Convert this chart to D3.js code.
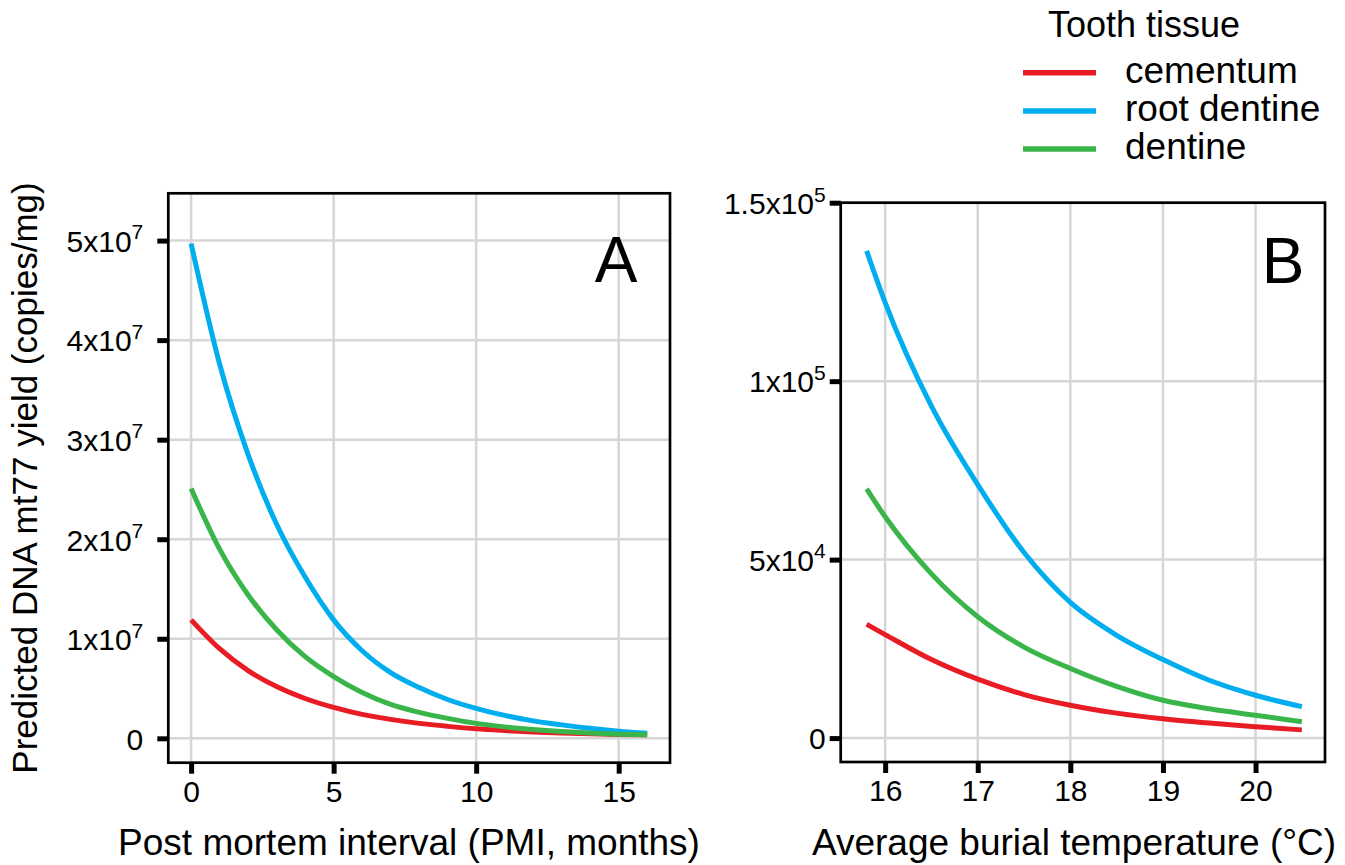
<!DOCTYPE html>
<html>
<head>
<meta charset="utf-8">
<script src="https://cdn.jsdelivr.net/npm/d3@7"></script>
<style>
  body { margin: 0; background: #fff; }
  svg text { font-family: "Liberation Sans", Arial, Helvetica, sans-serif; fill: #000; }
</style>
</head>
<body>
<script>
const width = 1345;
const height = 865;

// tissues and colours
const tissues = ['cementum', 'root dentine', 'dentine'];
const colors = { 'cementum': '#e81c24', 'root dentine': '#00aeef', 'dentine': '#39b54a' };

// panel A: post mortem interval (months) vs predicted yield (x1e7 copies/mg)
const pmi = [0, 1, 2, 3, 4, 5, 6, 7, 8, 9, 10, 11, 12, 13, 14, 15, 16];
const cementumA = [1.19, 0.90, 0.68, 0.52, 0.40, 0.31, 0.24, 0.19, 0.15, 0.12, 0.095, 0.078, 0.064, 0.053, 0.045, 0.039, 0.035];
const rootDentineA = [4.97, 3.76, 2.85, 2.15, 1.62, 1.19, 0.88, 0.66, 0.51, 0.39, 0.30, 0.23, 0.175, 0.135, 0.10, 0.072, 0.05];
const dentineA = [2.51, 1.90, 1.44, 1.09, 0.82, 0.62, 0.46, 0.34, 0.26, 0.20, 0.15, 0.115, 0.088, 0.068, 0.053, 0.042, 0.035];

// panel B: average burial temperature (°C) vs predicted yield (x1e4 copies/mg)
const temp = [15.8, 16, 16.5, 17, 17.5, 18, 18.5, 19, 19.5, 20, 20.5];
const cementumB = [3.19, 2.90, 2.20, 1.65, 1.22, 0.92, 0.70, 0.54, 0.42, 0.32, 0.23];
const rootDentineB = [13.65, 12.2, 9.3, 7.1, 5.2, 3.8, 2.88, 2.2, 1.62, 1.2, 0.88];
const dentineB = [6.98, 6.2, 4.6, 3.4, 2.55, 1.95, 1.45, 1.06, 0.82, 0.64, 0.46];

// ticks and their labels ("^" marks the exponent)
const ticksA_x = [0, 5, 10, 15];
const ticksA_y = [0, 1, 2, 3, 4, 5];          // x1e7
const labelsA_y = ['0', '1x10^7', '2x10^7', '3x10^7', '4x10^7', '5x10^7'];
const ticksB_x = [16, 17, 18, 19, 20];
const ticksB_y = [0, 5, 10, 15];              // x1e4
const labelsB_y = ['0', '5x10^4', '1x10^5', '1.5x10^5'];

const svg = d3.select('body').append('svg')
    .attr('width', width)
    .attr('height', height);

function sciLabel(sel, label) {
    const parts = label.split('^');
    sel.text(null);
    sel.append('tspan').text(parts[0]);
    if (parts[1]) {
        sel.append('tspan').attr('dy', -12.5).style('font-size', '21px').text(parts[1]);
    }
}

function panel(opt) {
    const x = d3.scaleLinear().domain(opt.xDomain).range([opt.left, opt.right]);
    const y = d3.scaleLinear().domain(opt.yDomain).range([opt.bottom, opt.top]);
    const g = svg.append('g');

    // grid
    g.selectAll('.vgrid').data(opt.xTicks).enter().append('line')
        .attr('x1', d => x(d)).attr('x2', d => x(d))
        .attr('y1', opt.top).attr('y2', opt.bottom)
        .attr('stroke', '#d6d6d6').attr('stroke-width', 2.5);
    g.selectAll('.hgrid').data(opt.yTicks).enter().append('line')
        .attr('y1', d => y(d)).attr('y2', d => y(d))
        .attr('x1', opt.left).attr('x2', opt.right)
        .attr('stroke', '#d6d6d6').attr('stroke-width', 2.5);

    // lines
    const line = d3.line()
        .x((d, i) => x(opt.xs[i]))
        .y(d => y(d))
        .curve(d3.curveMonotoneX);
    tissues.forEach(t => {
        g.append('path')
            .attr('d', line(opt.series[t]))
            .attr('fill', 'none')
            .attr('stroke', colors[t])
            .attr('stroke-width', 5);
    });

    // border
    g.append('rect')
        .attr('x', opt.left).attr('y', opt.top)
        .attr('width', opt.right - opt.left).attr('height', opt.bottom - opt.top)
        .attr('fill', 'none').attr('stroke', '#000').attr('stroke-width', 2.7);

    // axes
    const xAxis = g.append('g')
        .attr('transform', `translate(0, ${opt.bottom})`)
        .call(d3.axisBottom(x).tickValues(opt.xTicks).tickFormat(d3.format('d'))
            .tickSize(11).tickSizeOuter(0).tickPadding(7));
    const yAxis = g.append('g')
        .attr('transform', `translate(${opt.left}, 0)`)
        .call(d3.axisLeft(y).tickValues(opt.yTicks).tickSize(11).tickSizeOuter(0).tickPadding(opt.yPad));
    [xAxis, yAxis].forEach(a => {
        a.select('.domain').remove();
        a.selectAll('.tick line').attr('stroke', '#000').attr('stroke-width', 5);
        a.selectAll('.tick text').style('font-size', '30px').attr('fill', '#000');
    });
    yAxis.selectAll('.tick text').each(function(d, i) {
        sciLabel(d3.select(this), opt.yLabels[i]);
    });
    yAxis.selectAll('.tick text').attr('dy', '0.36em');

    // panel letter
    g.append('text')
        .attr('x', opt.letterX).attr('y', opt.letterY)
        .attr('text-anchor', 'middle')
        .style('font-size', '64px')
        .text(opt.letter);

    // x title
    g.append('text')
        .attr('x', opt.titleX).attr('y', 855)
        .attr('text-anchor', 'middle')
        .style('font-size', '37px')
        .text(opt.xTitle);
}

panel({
    left: 168.3, right: 670, top: 193.3, bottom: 762.7,
    xDomain: [-0.8, 16.8], yDomain: [-0.245, 5.475],
    xTicks: ticksA_x, yTicks: ticksA_y, yLabels: labelsA_y, yPad: 14,
    xs: pmi,
    series: { 'cementum': cementumA, 'root dentine': rootDentineA, 'dentine': dentineA },
    letter: 'A', letterX: 616, letterY: 282,
    xTitle: 'Post mortem interval (PMI, months)', titleX: 409
});

panel({
    left: 840.7, right: 1325, top: 202.7, bottom: 762,
    xDomain: [15.52, 20.75], yDomain: [-0.67, 15],
    xTicks: ticksB_x, yTicks: ticksB_y, yLabels: labelsB_y, yPad: 4,
    xs: temp,
    series: { 'cementum': cementumB, 'root dentine': rootDentineB, 'dentine': dentineB },
    letter: 'B', letterX: 1283, letterY: 283,
    xTitle: 'Average burial temperature (°C)', titleX: 1074
});

// y axis title
svg.append('text')
    .attr('transform', 'translate(37, 478) rotate(-90)')
    .attr('text-anchor', 'middle')
    .style('font-size', '35px')
    .text('Predicted DNA mt77 yield (copies/mg)');

// legend
const legend = svg.append('g').attr('id', 'legend');
legend.append('text')
    .attr('x', 1048).attr('y', 37)
    .style('font-size', '36px')
    .text('Tooth tissue');
tissues.forEach((t, i) => {
    const cy = 72.7 + i * 38.2;
    legend.append('line')
        .attr('x1', 1023).attr('x2', 1096)
        .attr('y1', cy).attr('y2', cy)
        .attr('stroke', colors[t]).attr('stroke-width', 5.5);
    legend.append('text')
        .attr('x', 1125).attr('y', cy + 10)
        .style('font-size', '37px')
        .text(t);
});
</script>
</body>
</html>
